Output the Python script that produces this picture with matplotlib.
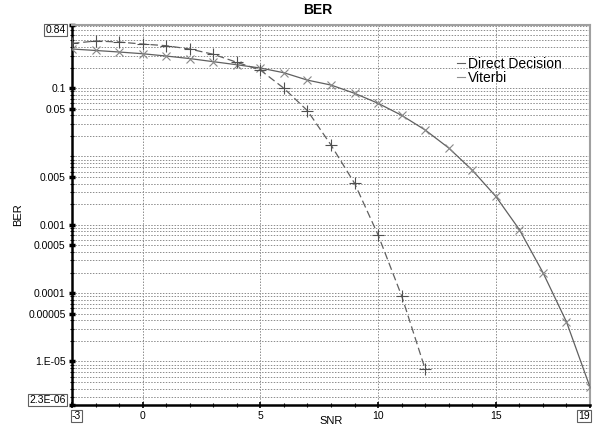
import matplotlib
matplotlib.use("Agg")
import matplotlib.pyplot as plt
import numpy as np
from matplotlib.ticker import FixedLocator, FixedFormatter, MultipleLocator

plt.rcParams['font.family'] = ['Liberation Sans', 'DejaVu Sans']

# data
snr_dd = list(range(-3, 20))
ber_dd = [0.374, 0.356, 0.338, 0.319, 0.295, 0.271, 0.244, 0.220, 0.197, 0.168,
          0.131, 0.111, 0.084, 0.060, 0.040, 0.0244, 0.0133, 0.0063, 0.0026,
          0.00085, 0.00020, 0.000038, 0.0000042]
snr_vit = list(range(-3, 13))
ber_vit = [0.451, 0.490, 0.473, 0.442, 0.418, 0.374, 0.313, 0.239, 0.184, 0.0995,
           0.0468, 0.0147, 0.00405, 0.00071, 0.000091, 0.0000077]

ytick_vals = [0.84, 0.1, 0.05, 0.005, 0.001, 0.0005, 0.0001, 0.00005, 1e-5, 2.3e-6]
ytick_labels = ["0.84", "0.1", "0.05", "0.005", "0.001", "0.0005", "0.0001",
                "0.00005", "1.E-05", "2.3E-06"]
xtick_vals = [-3, 0, 5, 10, 15, 19]
xtick_labels = ["-3", "0", "5", "10", "15", "19"]

fig = plt.figure(figsize=(5.96, 4.29), dpi=100)
ax = fig.add_axes([72/596, 1-405/429, 518/596, 380/429])
ax.set_yscale('log')
ax.set_xlim(-3, 19)
ax.set_ylim(2.3e-6, 0.84)

# grid on every log subdivision
grid_vals = [m * 10.0**d for d in range(-6, 0) for m in range(1, 10)]
grid_vals = [g for g in grid_vals if 2.3e-6 < g < 0.84]
for g in grid_vals:
    ax.axhline(g, color='#8c8c8c', lw=0.7, ls=(0, (1.5, 1.5)), zorder=1)
for xv in [0, 5, 10, 15]:
    ax.axvline(xv, color='#8c8c8c', lw=0.7, ls=(0, (1.5, 1.5)), zorder=1)

ax.plot(snr_dd, ber_dd, color='#606060', lw=0.9, ls='-', marker='x', ms=6,
        mew=0.8, mec='#888888', zorder=3)
ax.plot(snr_vit, ber_vit, color='#606060', lw=0.9, ls=(0, (6, 3)), marker='+', ms=8,
        mew=0.8, mec='#505050', zorder=3)

# legend
ax.plot([], [], color='#606060', lw=0.8, label='Direct Decision')
ax.plot([], [], color='#909090', lw=0.8, label='Viterbi')
h, l = ax.get_legend_handles_labels()
ax.legend(h[-2:], l[-2:], loc='upper left', bbox_to_anchor=(0.73, 0.935),
          frameon=False, fontsize=10, handlelength=0.6, handletextpad=0.15,
          labelspacing=0.05, borderpad=0)

# ticks
ax.yaxis.set_major_locator(FixedLocator(ytick_vals))
ax.yaxis.set_major_formatter(FixedFormatter(ytick_labels))
ax.yaxis.set_minor_locator(FixedLocator(grid_vals))
ax.yaxis.set_minor_formatter(FixedFormatter([]))
ax.xaxis.set_major_locator(FixedLocator(xtick_vals))
ax.xaxis.set_major_formatter(FixedFormatter(xtick_labels))
ax.xaxis.set_minor_locator(MultipleLocator(1))
ax.tick_params(axis='both', which='major', labelsize=7.5, length=4, width=1.2,
               direction='inout', pad=2)
ax.tick_params(axis='both', which='minor', length=3, width=0.8, direction='inout')
ax.tick_params(axis='y', which='major', width=2.5, length=5)

box = dict(boxstyle='square,pad=0.1', fc='white', ec='#606060', lw=0.8)
for lab in ax.get_yticklabels():
    if lab.get_text() == "0.84":
        lab.set_bbox(box)
        lab.set_verticalalignment('top')
    elif lab.get_text() == "2.3E-06":
        lab.set_bbox(box)
        lab.set_verticalalignment('bottom')
for lab in ax.get_xticklabels():
    if lab.get_text() == "-3":
        lab.set_bbox(box)
        lab.set_horizontalalignment('left')
    elif lab.get_text() == "19":
        lab.set_bbox(box)
        lab.set_horizontalalignment('right')

for side in ['top', 'right']:
    ax.spines[side].set_color('#a0a0a0')
    ax.spines[side].set_linewidth(1.5)
ax.spines['bottom'].set_linewidth(1.8)
ax.spines['left'].set_linewidth(1.8)

ax.set_xlabel("SNR", fontsize=8, labelpad=-3)
ax.set_ylabel("BER", fontsize=8, labelpad=4)
fig.text(318/596, 1-10/429, "BER", ha='center', va='center', fontsize=10,
         fontweight='bold')

fig.savefig("out.png", dpi=100)
